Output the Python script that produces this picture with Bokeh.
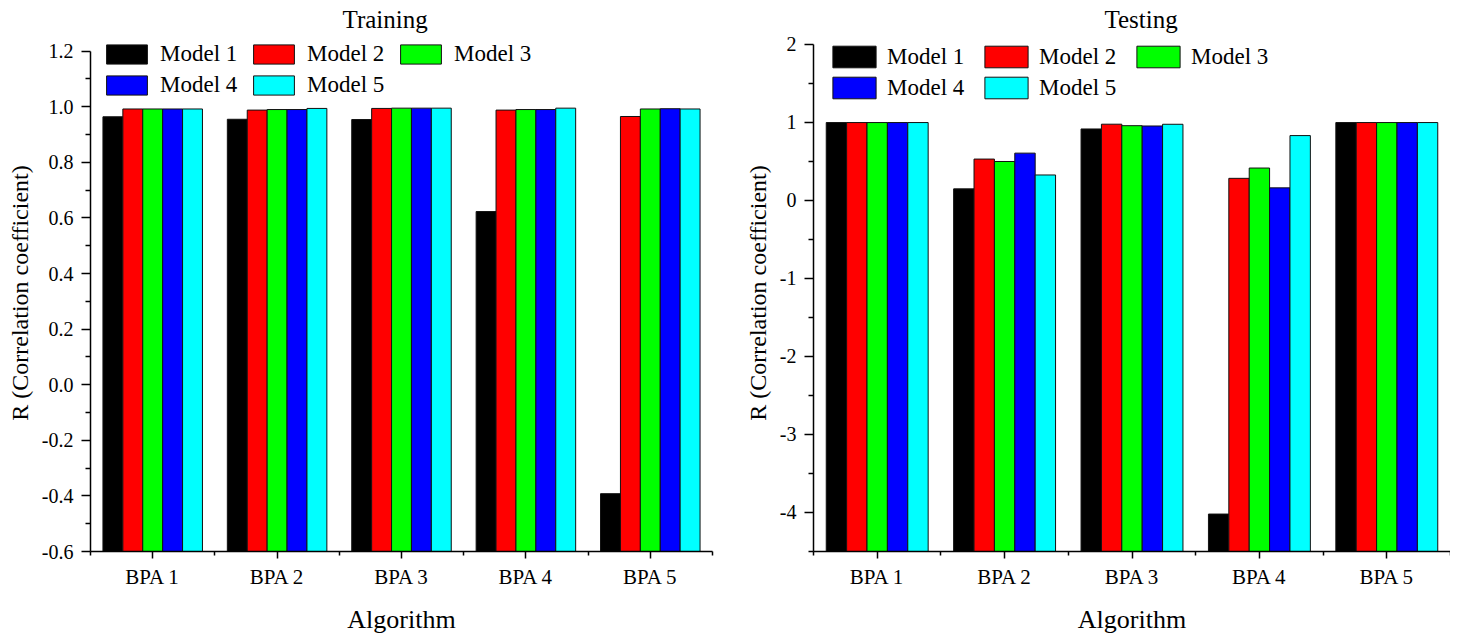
from bokeh.plotting import figure
from bokeh.layouts import row
from bokeh.models import (Legend, LegendItem, FixedTicker, Range1d,
                          ColumnDataSource, NumeralTickFormatter)
from bokeh.embed import file_html
from bokeh.resources import INLINE

categories = ["BPA 1", "BPA 2", "BPA 3", "BPA 4", "BPA 5"]
models = ["Model 1", "Model 2", "Model 3", "Model 4", "Model 5"]
colors = ["#000000", "#ff0000", "#00ff00", "#0000ff", "#00ffff"]

train_m1 = [0.964, 0.955, 0.954, 0.623, -0.392]
train_m2 = [0.992, 0.988, 0.994, 0.988, 0.965]
train_m3 = [0.992, 0.990, 0.995, 0.990, 0.992]
train_m4 = [0.992, 0.990, 0.995, 0.990, 0.993]
train_m5 = [0.992, 0.994, 0.995, 0.995, 0.992]

test_m1 = [0.999, 0.149, 0.917, -4.02, 0.999]
test_m2 = [0.999, 0.531, 0.978, 0.284, 0.999]
test_m3 = [0.999, 0.500, 0.959, 0.416, 0.999]
test_m4 = [0.999, 0.607, 0.955, 0.162, 0.999]
test_m5 = [0.999, 0.327, 0.977, 0.832, 0.999]

train_ticks = [-0.6, -0.4, -0.2, 0.0, 0.2, 0.4, 0.6, 0.8, 1.0, 1.2]
test_ticks = [-4, -3, -2, -1, 0, 1, 2]

FONT = "Liberation Serif"
H = 636          # figure height
TOP = 34         # frame top (px)
BOT = 552        # frame bottom / x axis (px)
frame_h = BOT - TOP


def make_fig(title, series, y0, y1, top_px, yticks, yminor, yfmt, width,
             mbl, mbr, leg_x, leg_top, glyph_w, glyph_h, label_w,
             standoff_leg, spacing_leg, title_offset):
    # extend the range above the top tick so the tick sits at top_px
    scale = (BOT - top_px) / (y1 - y0)
    y_end = y1 + (top_px - TOP) / scale
    p = figure(width=width, height=H, x_range=Range1d(0.5, 5.5),
               y_range=Range1d(y0, y_end), output_backend="svg",
               toolbar_location=None, min_border_left=mbl,
               min_border_right=mbr, min_border_top=TOP,
               min_border_bottom=H - BOT)
    p.grid.visible = False
    p.outline_line_color = None
    p.background_fill_color = "white"
    p.border_fill_color = "white"

    xs = [i + 1 for i in range(len(categories))]
    bw = 0.16
    rends = []
    for j, (vals, col) in enumerate(zip(series, colors)):
        off = (j - 2) * bw
        src = ColumnDataSource(dict(x=[x + off for x in xs], top=vals,
                                    bottom=[y0] * len(vals)))
        r = p.vbar(x="x", top="top", bottom="bottom", width=bw, source=src,
                   fill_color=col, line_color="#111111", line_width=1)
        rends.append(r)

    p.xaxis.ticker = FixedTicker(ticks=xs,
                                 minor_ticks=[x - 0.5 for x in xs] + [xs[-1] + 0.5])
    p.xaxis.major_label_overrides = {x: c for x, c in zip(xs, categories)}
    p.yaxis.ticker = FixedTicker(ticks=yticks, minor_ticks=yminor)
    p.yaxis.formatter = NumeralTickFormatter(format=yfmt)
    p.yaxis.bounds = (y0, y1)

    for ax in (p.xaxis[0], p.yaxis[0]):
        ax.axis_line_color = "black"
        ax.axis_line_width = 1.5
        ax.major_tick_line_color = "black"
        ax.major_tick_line_width = 1.5
        ax.minor_tick_line_color = "black"
        ax.minor_tick_line_width = 1.5
        ax.major_tick_in = 0
        ax.minor_tick_in = 0
        ax.major_label_text_font = FONT
        ax.major_label_text_color = "black"
        ax.axis_label_text_font = FONT
        ax.axis_label_text_font_style = "normal"
        ax.axis_label_text_color = "black"
    p.xaxis.axis_label_text_font_size = "26px"
    p.yaxis.axis_label_text_font_size = "24px"
    p.xaxis.major_tick_out = 7
    p.xaxis.minor_tick_out = 4
    p.yaxis.major_tick_out = 9
    p.yaxis.minor_tick_out = 5
    p.xaxis.major_label_text_font_size = "21px"
    p.yaxis.major_label_text_font_size = "20px"
    p.xaxis.major_label_standoff = 6
    p.yaxis.major_label_standoff = 8
    p.xaxis.axis_label = "Algorithm"
    p.yaxis.axis_label = "R (Correlation coefficient)"
    p.xaxis.axis_label_standoff = 13
    p.yaxis.axis_label_standoff = 6

    p.title.text = title
    p.title.text_font = FONT
    p.title.text_font_style = "normal"
    p.title.text_font_size = "25px"
    p.title.text_color = "black"
    p.title.align = "left"
    p.title.offset = title_offset
    p.title.standoff = 4

    n_rows = 2
    leg_h = n_rows * glyph_h + (n_rows - 1) * spacing_leg
    legend = Legend(
        items=[LegendItem(label=m, renderers=[r]) for m, r in zip(models, rends)],
        ncols=3, orientation="horizontal",
        location=(leg_x, frame_h - (leg_top - TOP) - leg_h),
        glyph_width=glyph_w, glyph_height=glyph_h, label_standoff=standoff_leg,
        spacing=spacing_leg, label_width=label_w, label_height=glyph_h,
        padding=0, margin=0, border_line_color=None, background_fill_alpha=0,
        label_text_font=FONT, label_text_font_size="23px",
        label_text_color="black")
    p.add_layout(legend)
    return p


W1 = 733

p1 = make_fig("Training", [train_m1, train_m2, train_m3, train_m4, train_m5],
              -0.6, 1.2, 50.7, train_ticks,
              [-0.5, -0.3, -0.1, 0.1, 0.3, 0.5, 0.7, 0.9, 1.1], "0.0",
              width=W1, mbl=90, mbr=W1 - 712, leg_x=11, leg_top=45.7,
              glyph_w=51, glyph_h=24, label_w=83, standoff_leg=8,
              spacing_leg=5, title_offset=252)
p2 = make_fig("Testing", [test_m1, test_m2, test_m3, test_m4, test_m5],
              -4.5, 2.0, 44.0, test_ticks,
              [-4.5, -3.5, -2.5, -1.5, -0.5, 0.5, 1.5], "0",
              width=1450 - W1, mbl=813 - W1, mbr=0, leg_x=14, leg_top=44.3,
              glyph_w=54, glyph_h=27, label_w=88, standoff_leg=6,
              spacing_leg=4, title_offset=291)

layout = row(p1, p2)
open("out.html", "w").write(file_html(layout, INLINE))
